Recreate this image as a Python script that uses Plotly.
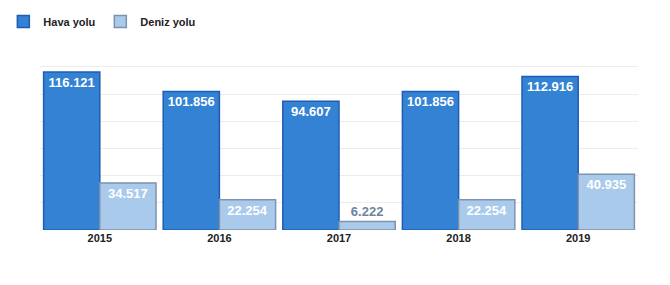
import plotly.graph_objects as go

years = ["2015", "2016", "2017", "2018", "2019"]
hava = [116121, 101856, 94607, 101856, 112916]
deniz = [34517, 22254, 6222, 22254, 40935]
hava_labels = ["116.121", "101.856", "94.607", "101.856", "112.916"]
deniz_labels = ["34.517", "22.254", "6.222", "22.254", "40.935"]

label_font = "Liberation Sans Narrow, Arial Narrow, Arial"
deniz_pos = ["inside" if v > 15000 else "outside" for v in deniz]
deniz_col = ["white" if v > 15000 else "#6f849e" for v in deniz]

fig = go.Figure()
fig.add_trace(go.Bar(
    x=years, y=hava, name="Hava yolu",
    text=hava_labels, textposition="inside", insidetextanchor="end",
    textfont=dict(color="white", size=13, family=label_font, weight="bold"),
    marker=dict(color="#3382d4", line=dict(color="#1f5db3", width=1.5)),
))
fig.add_trace(go.Bar(
    x=years, y=deniz, name="Deniz yolu",
    text=deniz_labels, textposition=deniz_pos, insidetextanchor="end",
    textfont=dict(color=deniz_col, size=13, family=label_font, weight="bold"),
    marker=dict(color="#aacaec", line=dict(color="#7d93ad", width=1.5)),
    cliponaxis=False,
))

fig.update_layout(
    width=670, height=285,
    margin=dict(l=40, r=32, t=60, b=55),
    barmode="group", bargap=0.06, bargroupgap=0.0,
    plot_bgcolor="white", paper_bgcolor="white",
    font=dict(family="Arial, Liberation Sans", size=11, color="#333333"),
    showlegend=True,
    legend=dict(orientation="h", xref="container", yref="container",
                x=0.005, y=0.925, xanchor="left", yanchor="middle",
                font=dict(size=11, color="#222222", family="Arial, Liberation Sans", weight="bold"),
                itemwidth=30, tracegroupgap=0),
    uniformtext=dict(minsize=10, mode="show"),
)
fig.update_yaxes(range=[0, 125000], dtick=20000, showticklabels=False,
                 showgrid=True, gridcolor="#ececec", zeroline=False)
fig.update_xaxes(showline=False, ticks="",
                 tickfont=dict(size=11, color="#222222", weight="bold"))

fig.write_html("out.html")
